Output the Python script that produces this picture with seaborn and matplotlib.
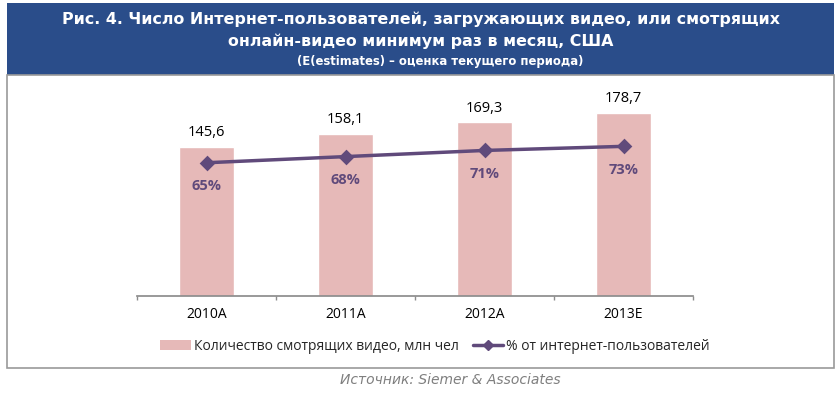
import numpy as np
import pandas as pd
import matplotlib
matplotlib.use("Agg")
import matplotlib.pyplot as plt
import seaborn as sns
from matplotlib.patches import Rectangle, Patch
from matplotlib.lines import Line2D

# данные
years = ["2010A", "2011A", "2012A", "2013E"]
viewers = [145.6, 158.1, 169.3, 178.7]     # млн чел
share = [0.65, 0.68, 0.71, 0.73]           # доля интернет-пользователей

bar_color = "#E6B9B8"
line_color = "#604A7B"
header_color = "#2A4D8A"

df = pd.DataFrame({"year": years, "viewers": viewers, "share": share})

sns.set_theme(style="white")
plt.rcParams["font.family"] = ["Open Sans", "DejaVu Sans"]

W, H = 840, 398
fig = plt.figure(figsize=(W / 100, H / 100), dpi=100)

def px(x, y):
    return x / W, 1 - y / H

# шапка и рамка
fig.patches.append(Rectangle(px(7, 75), 827 / W, 72 / H, transform=fig.transFigure,
                             facecolor=header_color, edgecolor="none", zorder=0))
fig.patches.append(Rectangle(px(7, 368), 827 / W, 293 / H, transform=fig.transFigure,
                             facecolor="none", edgecolor="#9A9A9A", lw=1.2, zorder=0))

fig.text(421 / W, 1 - 19 / H, "Рис. 4. Число Интернет-пользователей, загружающих видео, или смотрящих",
         ha="center", va="center", color="white", fontsize=11.4, fontweight="bold",
         family="DejaVu Sans")
fig.text(421 / W, 1 - 41 / H, "онлайн-видео минимум раз в месяц, США",
         ha="center", va="center", color="white", fontsize=11.4, fontweight="bold",
         family="DejaVu Sans")
fig.text(440 / W, 1 - 61 / H, "(E(estimates) – оценка текущего периода)",
         ha="center", va="center", color="white", fontsize=8.4, fontweight="bold",
         family="DejaVu Sans")

# основная область
ax = fig.add_axes([137 / W, 102 / H, 556 / W, 205 / H])
sns.barplot(data=df, x="year", y="viewers", color=bar_color, width=0.4,
            saturation=1, ax=ax, zorder=2)
ax.set_ylim(0, 200)
ax.set_xlim(-0.5, len(years) - 0.5)
ax.set_xlabel("")
ax.set_ylabel("")
ax.set_yticks([])
for s in ["top", "right", "left"]:
    ax.spines[s].set_visible(False)
ax.spines["bottom"].set_color("#8C8C8C")
ax.set_xticks(np.arange(len(years) + 1) - 0.5, minor=True)
ax.tick_params(axis="x", which="minor", bottom=True, length=3, color="#8C8C8C", direction="out")
ax.tick_params(axis="x", which="major", bottom=False, labelsize=10, pad=2, colors="black")

for i, v in enumerate(viewers):
    ax.annotate(f"{v:.1f}".replace(".", ","), (i, v), xytext=(0, 5), textcoords="offset points",
                ha="center", va="bottom", fontsize=10.5, color="black")

ax2 = ax.twinx()
sns.pointplot(data=df, x="year", y="share", color=line_color, markers="D",
              linestyles="-", ax=ax2, markersize=6, linewidth=2.5)
ax2.set_ylim(0, 1)
ax2.set_xlim(-0.5, len(years) - 0.5)
ax2.set_yticks([])
ax2.set_ylabel("")
ax2.set_xlabel("")
for s in ["top", "right", "left", "bottom"]:
    ax2.spines[s].set_visible(False)

for i, p in enumerate(share):
    ax2.annotate(f"{p:.0%}", (i, p), xytext=(0, -17), textcoords="offset points",
                 ha="center", va="center", fontsize=10.5, fontweight="bold", color=line_color)

handles = [Patch(facecolor=bar_color, edgecolor="none"),
           Line2D([0], [0], color=line_color, lw=2.5, marker="D", markersize=5)]
fig.legend(handles, ["Количество смотрящих видео, млн чел", "% от интернет-пользователей"],
           loc="center", bbox_to_anchor=(435 / W, 1 - 346 / H), ncol=2, frameon=False,
           fontsize=10, handlelength=2.2, handletextpad=0.2, columnspacing=1.0)

fig.text(450 / W, 1 - 380 / H, "Источник: Siemer & Associates", ha="center", va="center",
         color="#7F7F7F", fontsize=10, style="italic", family="DejaVu Sans")

fig.savefig("out.png", dpi=100)
